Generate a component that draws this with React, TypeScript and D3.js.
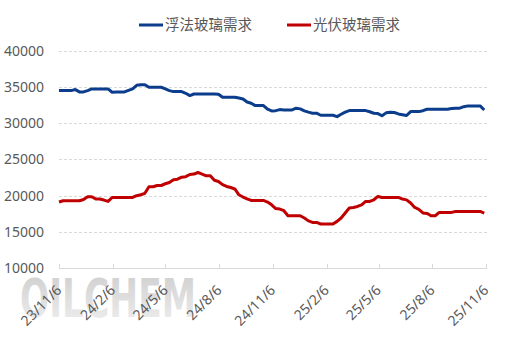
import { useEffect, useRef } from "react";
import * as d3 from "d3";

const startDate = new Date(2023, 10, 6);

const seriesNames = ["浮法玻璃需求", "光伏玻璃需求"];
const seriesColors = ["#0b3d8c", "#c00000"];

// weekly values
const floatGlass = [
  34470, 34470, 34470, 34470, 34610, 34290, 34290, 34470, 34700, 34700,
  34700, 34700, 34700, 34240, 34290, 34290, 34290, 34500, 34700, 35200,
  35290, 35290, 34930, 34930, 34930, 34930, 34700, 34470, 34330, 34330,
  34330, 34100, 33780, 34000, 34000, 34000, 34000, 34000, 34000, 33970,
  33560, 33560, 33560, 33560, 33450, 33320, 32900, 32730, 32400, 32400,
  32400, 31900, 31670, 31700, 31850, 31800, 31800, 31800, 32040, 31950,
  31670, 31500, 31350, 31350, 31070, 31070, 31070, 31070, 30880, 31200,
  31500, 31710, 31710, 31710, 31710, 31710, 31550, 31350, 31300, 31000,
  31400, 31490, 31450, 31250, 31150, 31030, 31570, 31570, 31570, 31700,
  31900, 31900, 31900, 31900, 31900, 31900, 32000, 32040, 32040, 32250,
  32360, 32360, 32360, 32360, 31800,
];

const pvGlass = [
  19100, 19280, 19280, 19280, 19280, 19280, 19450, 19830, 19830, 19510,
  19510, 19370, 19180, 19730, 19730, 19730, 19730, 19730, 19730, 19970,
  20100, 20300, 21200, 21200, 21380, 21380, 21620, 21800, 22170, 22250,
  22530, 22600, 22900, 22950, 23170, 22950, 22720, 22720, 22100, 21930,
  21500, 21250, 21100, 20900, 20100, 19790, 19550, 19320, 19320, 19320,
  19320, 19100, 18720, 18200, 18130, 17900, 17210, 17210, 17210, 17210,
  16890, 16500, 16290, 16290, 16070, 16070, 16070, 16070, 16430, 16900,
  17580, 18270, 18350, 18490, 18700, 19180, 19180, 19410, 19870, 19730,
  19730, 19730, 19730, 19730, 19510, 19400, 18960, 18350, 18100, 17600,
  17530, 17210, 17210, 17670, 17670, 17670, 17670, 17800, 17800, 17800,
  17800, 17800, 17800, 17800, 17580,
];

const tickDates = [
  "2023-11-06", "2024-02-06", "2024-05-06", "2024-08-06", "2024-11-06",
  "2025-02-06", "2025-05-06", "2025-08-06", "2025-11-06",
];
const yTicks = [10000, 15000, 20000, 25000, 30000, 35000, 40000];

export default function App() {
  const ref = useRef<SVGSVGElement | null>(null);

  useEffect(() => {
    const node = ref.current;
    if (!node) return;
    const svg = d3.select(node);
    svg.selectAll("*").remove();

    const width = 514;
    const height = 343;
    const left = 59;
    const right = 486;
    const top = 50.5;
    const bottom = 268;
    const muted = "#595959";
    const grid = "#d9d9d9";
    const font = "'Noto Sans', 'Noto Sans CJK SC', sans-serif";

    const parse = d3.timeParse("%Y-%m-%d");
    const ticks = tickDates.map((d) => parse(d) as Date);
    const fmt = d3.timeFormat("%y/%-m/%-d");

    const x = d3.scaleTime().domain([ticks[0], ticks[ticks.length - 1]]).range([left, right]);
    const y = d3.scaleLinear().domain([10000, 40000]).range([bottom, top]);

    svg.attr("viewBox", `0 0 ${width} ${height}`);

    // watermark
    const defs = svg.append("defs");
    const grad = defs
      .append("linearGradient")
      .attr("id", "wm")
      .attr("x1", 0)
      .attr("y1", 0)
      .attr("x2", 0)
      .attr("y2", 1);
    grad.append("stop").attr("offset", "0%").attr("stop-color", "#c4c4c4");
    grad.append("stop").attr("offset", "100%").attr("stop-color", "#efefef");
    svg
      .append("text")
      .attr("x", 20)
      .attr("y", 317)
      .attr("font-family", "'DejaVu Sans', sans-serif")
      .attr("font-weight", "bold")
      .attr("font-size", 54)
      .attr("textLength", 176)
      .attr("lengthAdjust", "spacingAndGlyphs")
      .attr("fill", "url(#wm)")
      .attr("opacity", 0.85)
      .text("OILCHEM");

    // grid
    svg
      .append("g")
      .selectAll("line")
      .data(yTicks.filter((t) => t > 10000))
      .join("line")
      .attr("x1", left)
      .attr("x2", right + 1)
      .attr("y1", (t) => Math.round(y(t)) + 0.5)
      .attr("y2", (t) => Math.round(y(t)) + 0.5)
      .attr("stroke", grid)
      .attr("stroke-dasharray", "3 2");

    svg
      .append("g")
      .selectAll("text")
      .data(yTicks)
      .join("text")
      .attr("x", 44)
      .attr("y", (t) => y(t) + 5)
      .attr("text-anchor", "end")
      .attr("font-family", font)
      .attr("font-size", 14)
      .attr("fill", muted)
      .text((t) => String(t));

    // x axis
    svg
      .append("line")
      .attr("x1", left)
      .attr("x2", right + 1)
      .attr("y1", bottom + 0.5)
      .attr("y2", bottom + 0.5)
      .attr("stroke", grid);
    svg
      .append("g")
      .selectAll("line")
      .data(ticks)
      .join("line")
      .attr("x1", (d) => Math.round(x(d)) + 0.5)
      .attr("x2", (d) => Math.round(x(d)) + 0.5)
      .attr("y1", bottom - 4)
      .attr("y2", bottom)
      .attr("stroke", grid);
    svg
      .append("g")
      .selectAll("text")
      .data(ticks)
      .join("text")
      .attr("text-anchor", "end")
      .attr("transform", (d) => `translate(${x(d) + 3.5},291) rotate(-45)`)
      .attr("font-family", font)
      .attr("font-size", 14)
      .attr("fill", muted)
      .text((d) => fmt(d));

    // lines
    const line = d3
      .line<number>()
      .x((_v, i) => x(d3.timeDay.offset(startDate, i * 7)))
      .y((v) => y(v));

    [floatGlass, pvGlass].forEach((values, k) => {
      svg
        .append("path")
        .datum(values)
        .attr("d", line)
        .attr("fill", "none")
        .attr("stroke", seriesColors[k])
        .attr("stroke-width", 3)
        .attr("stroke-linejoin", "round");
    });

    // legend
    const legendX = [139, 287];
    seriesNames.forEach((name, k) => {
      svg
        .append("line")
        .attr("x1", legendX[k])
        .attr("x2", legendX[k] + 24)
        .attr("y1", 25)
        .attr("y2", 25)
        .attr("stroke", seriesColors[k])
        .attr("stroke-width", 3);
      svg
        .append("text")
        .attr("x", legendX[k] + 26)
        .attr("y", 30)
        .attr("font-family", "'Noto Sans CJK SC', sans-serif")
        .attr("font-size", 14.5)
        .attr("fill", muted)
        .text(name);
    });
  }, []);

  return (
    <svg
      ref={ref}
      width={514}
      height={343}
      style={{ position: "absolute", left: 0, top: 0, background: "#fff" }}
    />
  );
}
